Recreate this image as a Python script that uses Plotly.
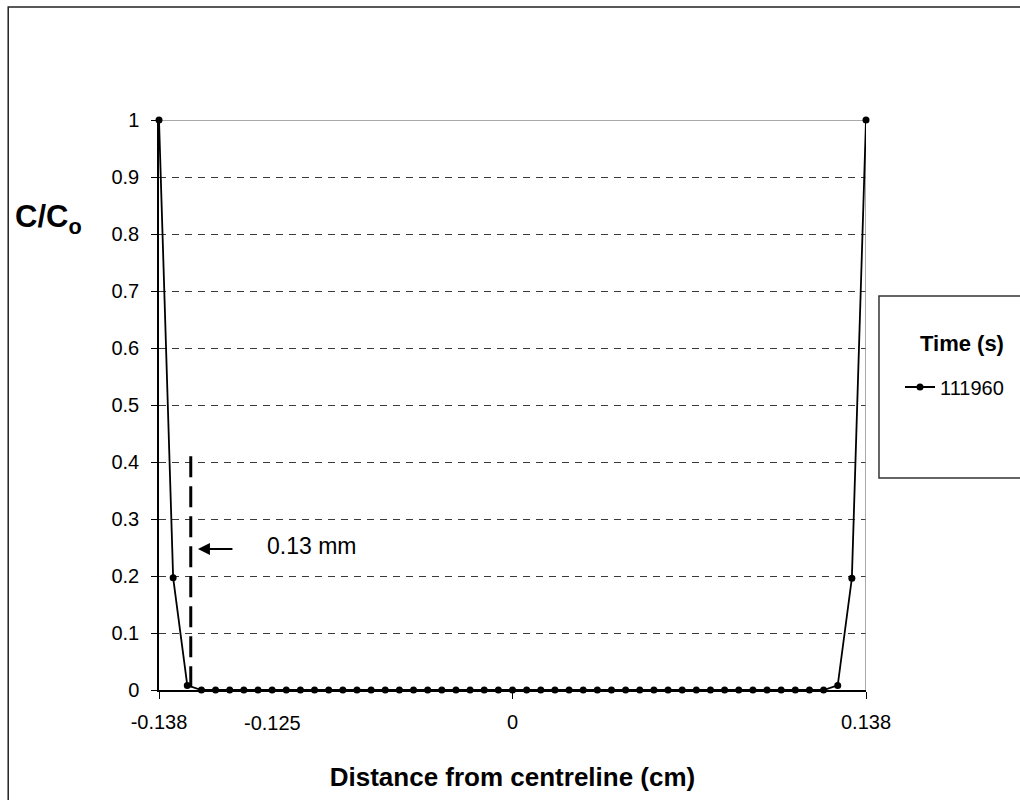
import plotly.graph_objects as go

# ---- data ----
distance_cm = [
    -0.138, -0.13248, -0.12696, -0.12144, -0.11592, -0.1104, -0.10488, -0.09936,
    -0.09384, -0.08832, -0.0828, -0.07728, -0.07176, -0.06624, -0.06072, -0.0552,
    -0.04968, -0.04416, -0.03864, -0.03312, -0.0276, -0.02208, -0.01656, -0.01104,
    -0.00552, 0.0, 0.00552, 0.01104, 0.01656, 0.02208, 0.0276, 0.03312, 0.03864,
    0.04416, 0.04968, 0.0552, 0.06072, 0.06624, 0.07176, 0.07728, 0.0828, 0.08832,
    0.09384, 0.09936, 0.10488, 0.1104, 0.11592, 0.12144, 0.12696, 0.13248, 0.138,
]
conc_ratio = [
    1.0, 0.197, 0.008, 0, 0, 0, 0, 0,
    0, 0, 0, 0, 0, 0, 0, 0,
    0, 0, 0, 0, 0, 0, 0, 0,
    0, 0, 0, 0, 0, 0, 0, 0, 0,
    0, 0, 0, 0, 0, 0, 0, 0, 0,
    0, 0, 0, 0, 0, 0, 0.008, 0.196, 1.0,
]
series_name = "111960"
legend_title = "Time (s)"

x_tickvals = [-0.138, 0.0, 0.138]
x_ticktext = ["-0.138", "0", "0.138"]
y_tickvals = [0, 0.1, 0.2, 0.3, 0.4, 0.5, 0.6, 0.7, 0.8, 0.9, 1.0]
y_ticktext = ["0", "0.1", "0.2", "0.3", "0.4", "0.5", "0.6", "0.7", "0.8", "0.9", "1"]

marker_x = -0.1256        # dashed marker line position (cm)
marker_top = 0.41
arrow_label_x = -0.1228    # arrow head positions
arrow_label_y = 0.2474
axis_arrow_y = -0.0123

FONT = "Liberation Sans, Arial, sans-serif"

# plot area geometry in pixels (for paper coordinates)
L, R, T, B = 159, 867, 120, 690
W, H = 1020, 800


def px(xp):
    return (xp - L) / (R - L)


def py(yp):
    return (B - yp) / (B - T)


fig = go.Figure()
fig.add_trace(go.Scatter(
    x=distance_cm, y=conc_ratio, name=series_name, mode="lines+markers",
    line=dict(color="black", width=1.8),
    marker=dict(color="black", size=7),
    cliponaxis=False,
))

shapes = [
    # plot area top / right border (gray)
    dict(type="line", xref="x", yref="y", x0=-0.138, x1=0.138, y0=1, y1=1,
         line=dict(color="#8c8c8c", width=1.5), layer="between"),
    dict(type="line", xref="x", yref="y", x0=0.138, x1=0.138, y0=0, y1=1,
         line=dict(color="#8c8c8c", width=1.5), layer="between"),
    # dashed thick marker line
    dict(type="line", xref="x", yref="y", x0=marker_x, x1=marker_x, y0=marker_top, y1=0,
         line=dict(color="black", width=3, dash="21px,9px")),
    # legend box
    dict(type="rect", xref="paper", yref="paper", x0=px(880), x1=px(1040), y0=py(478), y1=py(296),
         line=dict(color="#333333", width=1.5), fillcolor="rgba(0,0,0,0)"),
    # outer chart frame
    dict(type="rect", xref="paper", yref="paper", x0=px(8), x1=px(1040), y0=py(820), y1=py(7),
         line=dict(color="#222222", width=1.5), fillcolor="rgba(0,0,0,0)"),
]

annotations = [
    dict(text="<b>C/C<sub>o</sub></b>", xref="paper", yref="paper", x=px(48), y=py(219),
         xanchor="center", yanchor="middle", showarrow=False,
         font=dict(family=FONT, size=31, color="black")),
    dict(text="0.13 mm", xref="paper", yref="paper", x=px(265), y=py(546),
         xanchor="left", yanchor="middle", showarrow=False,
         font=dict(family=FONT, size=23, color="black")),
    dict(text="", xref="x", yref="y", x=arrow_label_x, y=arrow_label_y,
         ax=36, ay=0, axref="pixel", ayref="pixel", showarrow=True,
         arrowhead=2, arrowsize=1.2, arrowwidth=2, arrowcolor="black"),
    dict(text="", xref="x", yref="y", x=arrow_label_x, y=axis_arrow_y,
         ax=37, ay=18, axref="pixel", ayref="pixel", showarrow=True,
         arrowhead=2, arrowsize=1.2, arrowwidth=2, arrowcolor="black"),
    dict(text="-0.125", xref="paper", yref="paper", x=px(242), y=py(723),
         xanchor="left", yanchor="middle", showarrow=False,
         font=dict(family=FONT, size=20, color="black")),
    dict(text="<b>" + legend_title + "</b>", xref="paper", yref="paper", x=px(963), y=py(343),
         xanchor="center", yanchor="middle", showarrow=False,
         font=dict(family=FONT, size=22, color="black")),
]

fig.update_layout(
    width=W, height=H,
    margin=dict(l=L, r=W - R, t=T, b=H - B),
    paper_bgcolor="white", plot_bgcolor="white",
    font=dict(family=FONT, size=20, color="black"),
    showlegend=True,
    legend=dict(x=px(900), y=py(387), xanchor="left", yanchor="middle",
                bgcolor="rgba(0,0,0,0)", borderwidth=0,
                font=dict(family=FONT, size=20, color="black")),
    shapes=shapes,
    annotations=annotations,
    xaxis=dict(
        range=[-0.138, 0.138], tickvals=x_tickvals, ticktext=x_ticktext,
        showgrid=False, zeroline=False, showline=True, linecolor="black", linewidth=1.5,
        ticks="outside", ticklen=7, tickcolor="black", tickwidth=1.2,
        ticklabelstandoff=6,
        tickfont=dict(family=FONT, size=20, color="black"),
        title=dict(text="<b>Distance from centreline (cm)</b>",
                   font=dict(family=FONT, size=26, color="black"), standoff=36),
    ),
    yaxis=dict(
        range=[0, 1], tickvals=y_tickvals, ticktext=y_ticktext,
        showgrid=True, gridcolor="#3a3a3a", gridwidth=1, griddash="7px,6px",
        zeroline=False, showline=True, linecolor="black", linewidth=1.5,
        ticks="outside", ticklen=6, tickcolor="black", tickwidth=1.2,
        ticklabelstandoff=8,
        tickfont=dict(family=FONT, size=20, color="black"),
    ),
)

fig.write_html("out.html")
